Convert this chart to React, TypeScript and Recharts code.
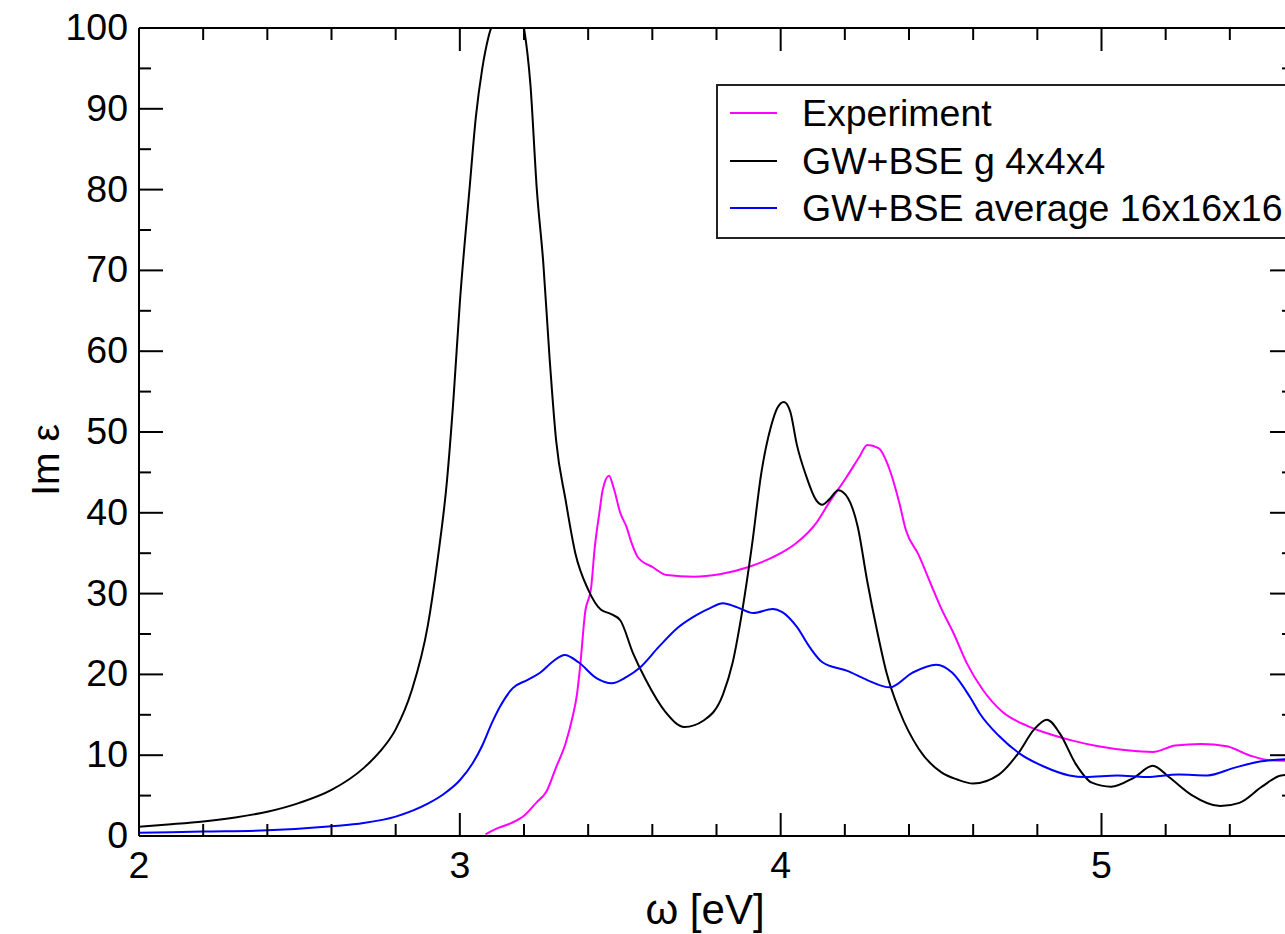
import React from 'react';
import { LineChart, Line, XAxis, YAxis } from 'recharts';

// ---- data ----
const experimentOmega = [3.08, 3.12, 3.16, 3.2, 3.24, 3.27, 3.3, 3.33, 3.35, 3.365, 3.375, 3.39, 3.41, 3.42, 3.436, 3.445, 3.465, 3.48, 3.5, 3.52, 3.535, 3.555, 3.6, 3.645, 3.73, 3.81, 3.9, 4.0, 4.05, 4.11, 4.15, 4.205, 4.245, 4.27, 4.305, 4.34, 4.37, 4.39, 4.43, 4.47, 4.5, 4.54, 4.58, 4.63, 4.69, 4.77, 4.84, 4.91, 4.99, 5.08, 5.16, 5.23, 5.31, 5.39, 5.46, 5.52, 5.6];
const experimentIm = [0.2, 1.0, 1.6, 2.5, 4.2, 5.5, 8.5, 11.5, 14.5, 17.5, 21, 27.5, 31, 35.5, 40.3, 42.8, 44.6, 43, 40, 38.2, 36.3, 34.5, 33.3, 32.3, 32.1, 32.4, 33.3, 35, 36.3, 38.7, 41.2, 44.4, 46.9, 48.4, 48, 45.3, 41.2, 37.9, 34.8, 31, 28.2, 25, 21.4, 18.1, 15.4, 13.6, 12.6, 11.8, 11.1, 10.6, 10.4, 11.2, 11.4, 11.1, 10.0, 9.4, 9.3];

const gw4Omega = [2.0, 2.1, 2.2, 2.3, 2.4, 2.5, 2.6, 2.7, 2.75, 2.8, 2.85, 2.9, 2.93, 2.96, 2.98, 3.0, 3.03, 3.05, 3.07, 3.09, 3.12, 3.15, 3.18, 3.2, 3.22, 3.24, 3.26, 3.28, 3.3, 3.33, 3.36, 3.4, 3.44, 3.47, 3.5, 3.54, 3.58, 3.64, 3.7, 3.76, 3.82, 3.85, 3.88, 3.91, 3.94, 3.97, 3.99, 4.01, 4.03, 4.05, 4.08, 4.11, 4.13, 4.15, 4.18, 4.21, 4.24, 4.27, 4.3, 4.33, 4.37, 4.43, 4.5, 4.55, 4.6, 4.68, 4.74, 4.79, 4.83, 4.87, 4.92, 4.97, 5.03, 5.1, 5.16, 5.21, 5.28, 5.37, 5.43, 5.5, 5.56, 5.6];
const gw4Im = [1.15, 1.45, 1.8, 2.3, 3.0, 4.1, 5.7, 8.4, 10.4, 13.2, 18, 26, 34, 44, 54, 66, 80, 89, 95, 99, 102, 104, 103, 100, 93, 80, 71, 59, 49, 41.5, 35, 30.5, 28, 27.5, 26.7, 22.6, 19.3, 15.4, 13.5, 14.3, 17.5, 21.4, 27.8, 35.8, 45, 50.7, 53, 53.7, 52.5, 48.5, 44.5, 41.6, 41, 41.6, 42.8, 41.8, 38.3, 31.5, 25.5, 20.2, 15.5, 10.8, 7.9, 7.0, 6.5, 7.6, 10.2, 13.2, 14.4, 12.7, 8.9, 6.6, 6.1, 7.2, 8.7, 7.3, 5.1, 3.7, 4.1, 6.1, 7.5, 7.6];

const avg16Omega = [2.0, 2.2, 2.4, 2.6, 2.7, 2.8, 2.9, 2.95, 3.0, 3.04, 3.07, 3.1, 3.125, 3.165, 3.21, 3.25, 3.29, 3.327, 3.37, 3.427, 3.473, 3.52, 3.56, 3.62, 3.68, 3.74, 3.78, 3.82, 3.865, 3.915, 3.975, 4.005, 4.05, 4.09, 4.13, 4.21, 4.27, 4.34, 4.41, 4.485, 4.535, 4.59, 4.62, 4.68, 4.745, 4.82, 4.9, 4.95, 5.05, 5.14, 5.24, 5.33, 5.41, 5.49, 5.57, 5.6];
const avg16Im = [0.4, 0.55, 0.7, 1.2, 1.6, 2.4, 4.0, 5.2, 6.9, 9, 11.2, 14, 16, 18.3, 19.3, 20.2, 21.6, 22.4, 21.5, 19.5, 18.9, 19.7, 20.8, 23.4, 25.8, 27.4, 28.2, 28.8, 28.3, 27.6, 28.1, 27.7, 25.9, 23.4, 21.5, 20.4, 19.3, 18.4, 20.2, 21.2, 20.2, 17.2, 15.2, 12.4, 10.2, 8.6, 7.5, 7.3, 7.5, 7.3, 7.6, 7.5, 8.4, 9.2, 9.5, 9.6];

const seriesNames = ['Experiment', 'GW+BSE g 4x4x4', 'GW+BSE average 16x16x16'];
const seriesColors = ['#ff00ff', '#000000', '#0000ff'];
const xTicks = [2.0, 2.2, 2.4, 2.6, 2.8, 3.0, 3.2, 3.4, 3.6, 3.8, 4.0, 4.2, 4.4, 4.6, 4.8, 5.0, 5.2, 5.4, 5.6];
const yTicks = [0, 5, 10, 15, 20, 25, 30, 35, 40, 45, 50, 55, 60, 65, 70, 75, 80, 85, 90, 95, 100];

const toPoints = (xs: number[], ys: number[]) => xs.map((x, i) => ({ x, y: ys[i] }));
const seriesData = [
  toPoints(experimentOmega, experimentIm),
  toPoints(gw4Omega, gw4Im),
  toPoints(avg16Omega, avg16Im),
];

const FONT = '"Liberation Sans", Arial, Helvetica, sans-serif';
const FS = 37.5;

const isMajorX = (v: number) => Math.abs(v - Math.round(v)) < 1e-6;
const isMajorY = (v: number) => Math.round(v) % 10 === 0;

const BottomTick = (props: any) => {
  const { x, y, payload } = props;
  const v = payload.value;
  const major = isMajorX(v);
  return (
    <g>
      <line x1={x} x2={x} y1={y} y2={y - (major ? 23 : 12)} stroke="#000" strokeWidth={2} />
      {major && (
        <text x={x} y={y + 42} textAnchor="middle" fontSize={FS} fontFamily={FONT} fill="#000">
          {Math.round(v)}
        </text>
      )}
    </g>
  );
};

const TopTick = (props: any) => {
  const { x, y, payload } = props;
  const major = isMajorX(payload.value);
  return <line x1={x} x2={x} y1={y} y2={y + (major ? 23 : 12)} stroke="#000" strokeWidth={2} />;
};

const LeftTick = (props: any) => {
  const { x, y, payload } = props;
  const v = payload.value;
  const major = isMajorY(v);
  return (
    <g>
      <line x1={x} x2={x + (major ? 24 : 12)} y1={y} y2={y} stroke="#000" strokeWidth={2} />
      {major && (
        <text x={x - 11} y={y + 12} textAnchor="end" fontSize={FS} fontFamily={FONT} fill="#000">
          {v}
        </text>
      )}
    </g>
  );
};

const RightTick = (props: any) => {
  const { x, y, payload } = props;
  const major = isMajorY(payload.value);
  return <line x1={x} x2={x - (major ? 24 : 12)} y1={y} y2={y} stroke="#000" strokeWidth={2} />;
};

const LegendBox = () => (
  <div
    style={{
      position: 'absolute',
      left: 716,
      top: 84,
      width: 577,
      height: 151,
      border: '2px solid #222',
      background: '#fff',
    }}
  >
    {seriesNames.map((name, i) => (
      <div key={i} style={{ position: 'absolute', top: 4 + i * 47.5, left: 0, height: 47.5, width: 577 }}>
        <div style={{ position: 'absolute', left: 12, top: 22, width: 47, height: 2, background: seriesColors[i] }} />
        <span
          style={{
            position: 'absolute',
            left: 84,
            top: 5,
            fontFamily: FONT,
            fontSize: FS,
            lineHeight: 1,
            color: '#000',
            whiteSpace: 'nowrap',
          }}
        >
          {name}
        </span>
      </div>
    ))}
  </div>
);

export default function App() {
  return (
    <div
      style={{
        position: 'absolute',
        left: 0,
        top: 0,
        width: 1285,
        height: 934,
        overflow: 'hidden',
        background: '#fff',
      }}
    >
      <LineChart width={1300} height={934} margin={{ top: 27, right: 5, bottom: 38, left: 0 }}>
        <XAxis
          xAxisId="bottom"
          type="number"
          dataKey="x"
          domain={[2, 5.6]}
          allowDataOverflow
          ticks={xTicks}
          interval={0}
          tickSize={0}
          tickMargin={0}
          tickLine={false}
          tick={<BottomTick />}
          axisLine={{ stroke: '#000', strokeWidth: 2 }}
          height={60}
          label={() => (
            <text x={705} y={924} textAnchor="middle" fontSize={42} fontFamily={FONT} fill="#000">
              ω [eV]
            </text>
          )}
        />
        <XAxis
          xAxisId="top"
          orientation="top"
          type="number"
          dataKey="x"
          domain={[2, 5.6]}
          allowDataOverflow
          ticks={xTicks}
          interval={0}
          tickSize={0}
          tickMargin={0}
          tickLine={false}
          tick={<TopTick />}
          axisLine={{ stroke: '#000', strokeWidth: 2 }}
          height={1}
        />
        <YAxis
          yAxisId="left"
          type="number"
          domain={[0, 100]}
          allowDataOverflow
          ticks={yTicks}
          interval={0}
          tickSize={0}
          tickMargin={0}
          tickLine={false}
          tick={<LeftTick />}
          axisLine={{ stroke: '#000', strokeWidth: 2 }}
          width={139}
          label={() => (
            <text
              x={59}
              y={460}
              transform="rotate(-90 59 460)"
              textAnchor="middle"
              fontSize={39}
              fontFamily={FONT}
              fill="#000"
            >
              Im ε
            </text>
          )}
        />
        <YAxis
          yAxisId="right"
          orientation="right"
          type="number"
          domain={[0, 100]}
          allowDataOverflow
          ticks={yTicks}
          interval={0}
          tickSize={0}
          tickMargin={0}
          tickLine={false}
          tick={<RightTick />}
          axisLine={{ stroke: '#000', strokeWidth: 2 }}
          width={1}
        />
        {seriesNames.map((name, i) => (
          <Line
            key={name}
            name={name}
            data={seriesData[i]}
            dataKey="y"
            xAxisId="bottom"
            yAxisId="left"
            type="monotone"
            stroke={seriesColors[i]}
            strokeWidth={2}
            dot={false}
            isAnimationActive={false}
          />
        ))}
      </LineChart>
      <LegendBox />
    </div>
  );
}
